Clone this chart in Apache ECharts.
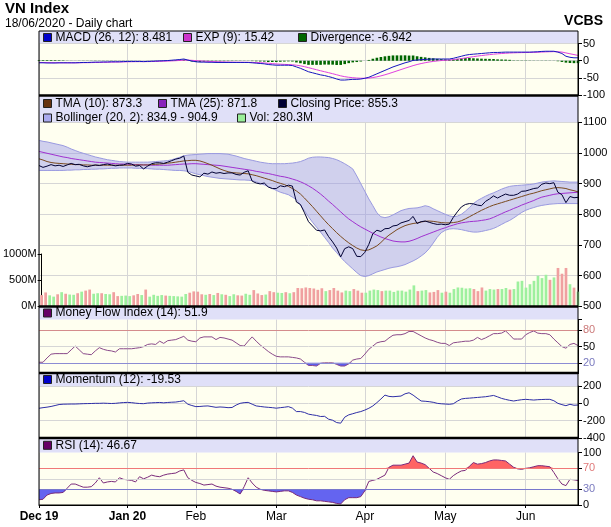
<!DOCTYPE html>
<html><head><meta charset="utf-8">
<script src="https://cdn.jsdelivr.net/npm/echarts@6/dist/echarts.min.js"></script>
<style>html,body{margin:0;padding:0;background:#fff}#c{width:611px;height:527px}</style>
</head><body><div id="c"></div>
<script>
// ---- trading calendar (categories) ----
const tradingDays = [
  ['2019-12', [2,3,4,5,6,9,10,11,12,13,16,17,18,19,20,23,24,25,26,27,30,31]],
  ['2020-01', [2,3,6,7,8,9,10,13,14,15,16,17,20,21,22,30,31]],
  ['2020-02', [3,4,5,6,7,10,11,12,13,14,17,18,19,20,21,24,25,26,27,28]],
  ['2020-03', [2,3,4,5,6,9,10,11,12,13,16,17,18,19,20,23,24,25,26,27,30,31]],
  ['2020-04', [1,3,6,7,8,9,10,13,14,15,16,17,20,21,22,23,24,27,28,29]],
  ['2020-05', [4,5,6,7,8,11,12,13,14,15,18,19,20,21,22,25,26,27,28,29]],
  ['2020-06', [1,2,3,4,5,8,9,10,11,12,15,16,17,18]]
];
const categories = [];
tradingDays.forEach(([m, days]) => days.forEach(d => categories.push(m + '-' + String(d).padStart(2, '0'))));
const tickLabels = ['Dec 19', 'Jan 20', 'Feb', 'Mar', 'Apr', 'May', 'Jun'];
const boldTickLabels = ['Dec 19', 'Jan 20'];

// ---- price panel ----
const closePrice = [
  959,953,957,962,958,960,956,961,966,962,963,958,955,958,961,959,962,964,961,958,960,961,
  966,964,957,959,948,957,965,968,968,966,970,975,980,983,990,937,928,
  925,922,934,931,938,934,936,933,935,935,930,928,937,942,908,902,899,902,889,884,
  884,893,890,895,892,840,832,805,776,762,748,746,749,727,710,690,661,688,694,688,663,662,
  676,702,737,748,744,753,754,762,764,772,776,780,793,770,776,778,774,770,767,768,
  766,768,790,808,824,832,835,834,830,828,842,850,860,853,860,866,862,862,866,875,
  876,880,884,886,898,902,900,903,872,864,838,858,854,855.3
];
const tma10 = [
  981,977,972,969,967,966,965,964,963,962,962,961,961,960,960,960,960,960,960,960,960,960,
  960,960,961,961,961,961,962,963,964,965,967,968,970,972,974,975,976,
  976,974,970,965,960,954,948,943,939,936,935,934,933,932,929,926,922,918,914,910,
  905,901,897,891,884,876,866,853,839,825,810,795,780,766,753,740,728,717,707,698,690,684,
  682,684,690,697,708,721,732,741,750,757,763,767,770,772,775,777,778,777,775,773,
  772,772,773,775,779,785,792,799,806,813,819,825,830,834,838,842,846,850,854,858,
  862,866,869,873,877,880,883,886,887,886,884,880,877,873.3
];
const tma25 = [
  1005,1002,999,996,993,990,987,985,982,980,978,976,974,972,970,969,968,967,966,965,964,964,
  963,963,962,962,961,961,960,960,960,960,960,961,962,963,964,964,965,
  965,964,963,962,961,960,959,957,955,953,951,949,947,945,943,940,938,935,933,930,
  927,924,922,919,915,911,906,900,893,885,876,866,855,843,832,820,808,796,785,776,767,759,
  752,745,738,732,726,721,717,713,711,710,710,712,716,721,727,732,737,742,747,752,
  756,761,765,769,772,774,776,777,778,780,782,785,790,796,802,808,813,819,824,830,
  835,840,845,851,856,859,862,865,867,868,869,870,871,871.8
];
const bollUpper = [
  1041,1038,1036,1033,1030,1027,1024,1019,1013,1008,1003,999,995,991,987,984,981,978,976,974,972,971,
  970,970,970,970,970,970,971,972,973,974,975,978,982,986,991,993,994,
  995,996,997,998,998,998,998,997,996,993,990,986,982,979,976,973,970,968,966,965,
  965,965,965,966,967,969,972,977,983,986,987,987,986,985,982,978,972,965,957,948,925,900,
  875,850,828,805,792,789,792,798,805,812,816,819,820,821,824,828,825,818,812,806,
  800,795,792,794,800,810,822,835,845,852,859,865,870,876,882,887,891,893,894,895,
  896,897,899,902,905,907,908,909,908,907,906,905,905,904.9
];
const bollLower = [
  943,943,943,943,943,943,943,944,944,945,945,946,946,947,947,948,948,949,950,950,951,951,
  951,951,950,950,949,949,948,947,947,946,945,944,943,943,942,940,936,
  932,929,926,923,921,919,917,916,915,914,913,912,912,911,910,906,901,896,890,884,
  878,872,868,864,856,848,830,812,792,774,758,742,725,708,690,675,660,646,634,622,610,600,
  597,600,606,612,616,620,624,627,629,632,636,642,648,655,664,674,688,706,725,740,
  748,752,753,752,750,747,744,742,742,744,747,750,754,760,767,774,780,788,797,806,
  813,818,822,826,829,831,833,834,835,835,835,835,835,834.9
];
const volumeM = [
  215,265,210,185,230,270,240,225,220,250,280,300,320,240,250,250,235,230,270,195,200,205,
  195,210,235,215,320,185,220,200,215,205,200,195,190,185,235,260,285,
  280,230,220,235,215,255,230,220,195,230,210,205,240,220,310,245,215,225,290,270,
  260,255,270,250,270,350,345,360,350,340,315,345,290,310,350,300,265,300,290,330,300,260,
  260,300,320,310,290,300,300,275,300,300,280,320,400,290,300,310,265,275,310,260,
  280,260,330,360,355,340,345,330,290,360,300,330,320,330,330,350,320,330,474,487,
  357,422,487,584,539,603,506,552,733,623,733,422,357,280.3
];

// ---- MACD panel ----
const macd = [
  -6,-6,-6.5,-6.5,-6.5,-6,-6,-6,-6,-6,-5.5,-5,-5,-4.5,-4,-4,-3.5,-3.5,-3,-3,-3,-2.5,
  -2,-2,-2,-2,-2.5,-2,-1.5,-1,-0.5,0,0.5,1.5,2.5,3.5,5,2,-1,
  -3,-4,-4,-4.5,-4.5,-5,-5,-5,-5,-5,-5,-5,-5,-5,-6,-7,-8,-9,-11,-12,
  -13,-13,-13,-13,-14,-18,-22,-27,-32,-35,-38,-41,-43,-46,-49,-53,-56,-56,-55,-54,-54,-53,
  -51,-48,-43,-38,-33,-28,-23,-18,-14,-10,-6,-3,1,2,3,4,4.5,5,5,5,
  5,5,7,10,13,16,18,19,20,21,22,23,24,24,24.5,25,25,25,25,25,
  25,25,25.5,26,27,27.5,27.5,27.5,25,21,13,10,8.5,8.481
];
const macdSignal = [
  -5,-5.2,-5.4,-5.6,-5.8,-5.9,-5.9,-6,-6,-6,-5.9,-5.7,-5.6,-5.4,-5.1,-4.9,-4.6,-4.4,-4.1,-3.9,-3.7,-3.4,
  -3.1,-2.9,-2.7,-2.6,-2.6,-2.5,-2.3,-2.1,-1.8,-1.4,-1,-0.5,0.1,0.8,1.6,1.7,1.2,
  0.4,-0.5,-1.2,-1.9,-2.4,-2.9,-3.3,-3.6,-3.9,-4.1,-4.3,-4.4,-4.5,-4.6,-4.9,-5.3,-5.8,-6.5,-7.4,-8.3,
  -9.3,-10,-10.6,-11.1,-11.7,-13,-14.8,-17.2,-20.1,-23.1,-26.1,-29.1,-31.9,-34.7,-37.6,-40.7,-43.8,-46.2,-48,-49.2,-50.2,-50.8,
  -50.8,-50.3,-48.8,-46.7,-43.9,-40.8,-37.2,-33.4,-29.5,-25.6,-21.7,-18,-14.2,-11,-8.2,-5.8,-3.7,-2,-0.6,0.5,
  1.4,2.1,3.1,4.5,6.2,8.2,10.1,11.9,13.5,15,16.4,17.7,19,20,20.9,21.7,22.4,22.9,23.3,23.6,
  23.9,24.1,24.4,24.7,25.2,25.7,26.1,26.4,26.1,25.1,22.7,20.2,17.9,15.42
];
const macdDivergence = [
  2,2,2,2,1.8,1.5,1.2,0.5,0.3,0.2,0.4,0.5,0.5,0.5,0.6,0.5,0.5,0.5,0.6,0.5,0.4,0.5,
  0.5,0.4,0.3,0.3,0.1,0.3,0.4,0.5,0.6,0.6,0.7,1.5,2.2,2.7,3.4,1.6,-2.2,
  -3.4,-3.5,-2.8,-2.6,-2.1,-2.1,-1.7,-1.4,-1.1,-0.9,-0.7,-0.6,-0.5,-0.4,-1.1,-1.7,-2.2,-2.5,-3.6,-3.7,
  -3.7,-3,-2.4,-1.9,-2.3,-5,-7.2,-9.8,-11.9,-11.9,-11.9,-11.9,-11.1,-11.3,-11.4,-12.3,-12.2,-9.8,-7,-4.8,-3.8,-2.2,
  -0.2,2.3,5.8,8.7,10.9,12.8,14.2,15.4,15.5,15.6,15.7,15,15.2,13,11.2,9.8,8.2,7,5.6,4.5,
  3.6,2.9,3.9,5.5,6.8,7.8,7.9,7.1,6.5,6,5.6,5.3,5,4,3.6,3.3,2.6,0.9,0.8,0.7,
  0.8,0.6,0.5,0.4,0.5,0.6,0.5,0.4,-1.5,-3.5,-5.5,-6.5,-7,-6.942
];

// ---- oscillators ----
const mfi = [
  21,21,29,36,37,37,37,37,44,51,44,37,36,35,42,48,45,43,42,40,46,46,
  46,46,47,48,50,54,55,54,60,56,61,62,63,66,69,62,60,
  59,66,68,68,68,63,67,66,64,62,57,52,51,60,68,60,53,47,41,36,
  32,31,31,31,30,29,27,21,15,15,14,19,20,20,20,17,14,14,18,25,27,28,
  36,45,51,57,59,60,66,71,72,72,74,78,78,74,70,66,63,61,58,56,
  56,52,57,58,59,60,60,62,67,63,66,70,74,74,75,79,72,64,64,64,
  72,76,79,75,74,74,72,64,57,50,47,54,56,51.9
];
const momentum = [
  -57,-50,-44,-36,-25,-14,-10,-9,-8,-8,-6,-4,-3,-2,0,0,2,0,-2,0,5,9,
  11,8,2,-2,-4,3,6,8,10,6,10,13,15,22,30,-10,-25,
  -38,-36,-32,-30,-38,-46,-42,-45,-50,-48,-20,0,8,11,-10,-30,-36,-42,-46,-50,
  -56,-50,-45,-38,-55,-95,-95,-105,-125,-133,-140,-152,-150,-183,-195,-222,-229,-160,-133,-120,-106,-95,
  -78,-57,-30,8,50,95,80,76,80,84,110,122,95,60,27,24,19,12,0,-5,
  -8,-11,-5,25,50,57,60,64,68,72,76,83,91,75,57,45,35,27,35,42,
  46,42,38,42,44,46,46,30,0,-15,-27,-11,-22,-19.53
];
const rsi = [
  10,11,19,22,23,23,24,32,40,40,37,34,34,35,42,52,42,44,45,44,52,49,
  48,47,44,54,50,53,57,55,54,57,59,60,61,65,67,52,47,
  43,41,38,39,40,36,34,33,32,30,26,21,35,52,42,34,30,28,27,26,
  25,26,27,27,24,19,16,13,11,10,8,8,7,6,5,3,2,10,14,14,14,16,
  27,45,47,49,53,57,72,76,76,76,78,80,94,82,80,77,70,63,60,56,
  52,49,56,61,65,66,74,81,78,79,81,84,86,86,85,84,78,72,69,68,
  70,71,73,75,75,74,73,62,50,40,37,49,48,46.67
];

// ---- axis tick labels ----
const macdTicks = [-100, -50, 0, 50];
const mfiTickLabels = [20, 50, 80];
const rsiTickLabels = [0, 30, 70, 100];

const names = {
  macd: 'MACD (26, 12): 8.481', exp: 'EXP (9): 15.42', div: 'Divergence: -6.942',
  tma10: 'TMA (10): 873.3', tma25: 'TMA (25): 871.8', close: 'Closing Price: 855.3',
  boll: 'Bollinger (20, 2): 834.9 - 904.9', vol: 'Vol: 280.3M',
  mfi: 'Money Flow Index (14): 51.9', mom: 'Momentum (12): -19.53', rsi: 'RSI (14): 46.67'
};

// ---- derived helpers for drawing ----
const monthStartIdx = [];
categories.forEach((c, i) => { if (i === 0 || c.slice(0, 7) !== categories[i - 1].slice(0, 7)) monthStartIdx.push(i); });
const tickAt = {};
monthStartIdx.forEach((idx, k) => { tickAt[idx] = tickLabels[k]; });
const isTick = (i) => tickAt[i] !== undefined;
const volUp = closePrice.map((v, i) => i > 0 && v >= closePrice[i - 1]);

const FONT = 'Liberation Sans, Arial, sans-serif';
const L = 39, RGT = 33, PW = 539;
const GRIDC = '#d6d6d6';
const CREAM = '#fffff0';
const BAND = '#e0e0f8';
const plain = (v) => String(v);

function xAx(g, bottom) {
  return {
    type: 'category', gridIndex: g, data: categories, boundaryGap: false,
    axisLine: { show: bottom, lineStyle: { color: '#000', width: 1 } },
    axisTick: { show: bottom, interval: (i) => isTick(i), length: 3, lineStyle: { color: '#000' } },
    axisLabel: {
      show: bottom, interval: (i) => isTick(i), margin: 6, fontSize: 12, color: '#000', fontFamily: FONT,
      showMinLabel: true,
      formatter: (v, i) => { const t = tickAt[i] || ''; return boldTickLabels.includes(t) ? '{b|' + t + '}' : t; },
      rich: { b: { fontWeight: 'bold', fontSize: 12, color: '#000', fontFamily: FONT } }
    },
    splitLine: { show: g !== 2, interval: (i) => isTick(i), lineStyle: { color: GRIDC, width: 1 } }
  };
}
function yAx(g, o) {
  const base = {
    type: 'value', gridIndex: g, position: 'right', scale: false,
    axisLine: { show: true, lineStyle: { color: '#000' } },
    axisTick: { show: true, length: 4, lineStyle: { color: '#000' } },
    axisLabel: { fontSize: 11, color: '#000', margin: 5, fontFamily: FONT, formatter: plain },
    splitLine: { show: true, lineStyle: { color: GRIDC, width: 1 } }
  };
  return Object.assign(base, o);
}
const lineS = (name, data, color, x, y, extra) => Object.assign({
  type: 'line', name, data, xAxisIndex: x, yAxisIndex: y, symbol: 'none', color,
  lineStyle: { color, width: 1 }, animation: false, silent: true, z: 3
}, extra || {});
const hline = (v, c) => ({ yAxis: v, lineStyle: { color: c, width: 1, type: 'solid' } });

const series = [
  // MACD
  { type: 'bar', name: names.div, data: macdDivergence, xAxisIndex: 0, yAxisIndex: 0, barWidth: 2.6,
    color: '#006600', itemStyle: { color: '#006600' }, animation: false, silent: true },
  lineS(names.exp, macdSignal, '#e040e0', 0, 0),
  lineS(names.macd, macd, '#1515c0', 0, 0),
  // Bollinger band
  lineS('bollLow', bollLower, '#9a9ae0', 1, 1, { stack: 'boll', z: 2 }),
  lineS(names.boll, bollUpper.map((u, i) => u - bollLower[i]), '#9a9ae0', 1, 1,
    { stack: 'boll', z: 2, areaStyle: { color: 'rgba(150,150,232,0.45)', opacity: 1 } }),
  // volume
  { type: 'bar', name: names.vol, data: volumeM, xAxisIndex: 2, yAxisIndex: 2, barWidth: 2.7,
    color: '#99ee99', itemStyle: { color: (p) => volUp[p.dataIndex] ? '#9ef09e' : '#f0a0a0' },
    animation: false, silent: true, z: 1 },
  lineS(names.tma25, tma25, '#a030d0', 1, 1),
  lineS(names.tma10, tma10, '#7a4a1e', 1, 1),
  lineS(names.close, closePrice, '#000033', 1, 1),
  // MFI
  lineS('mfiBase', mfi.map(v => Math.min(v, 20)), 'rgba(0,0,0,0)', 3, 3, { stack: 'mfiLow', lineStyle: { width: 0 } }),
  lineS('mfiLow', mfi.map(v => 20 - Math.min(v, 20)), 'rgba(0,0,0,0)', 3, 3,
    { stack: 'mfiLow', lineStyle: { width: 0 }, areaStyle: { color: '#5c5cee', opacity: 1 } }),
  lineS(names.mfi, mfi, '#8a4a8a', 3, 3, {
    markLine: { silent: true, symbol: 'none', label: { show: false }, animation: false,
      data: [hline(50, GRIDC), hline(80, '#d48c8c'), hline(20, '#8c8cd4')] }
  }),
  // Momentum
  lineS(names.mom, momentum, '#2e2ea6', 4, 4),
  // RSI
  lineS('rsiBaseHi', rsi.map(() => 70), 'rgba(0,0,0,0)', 5, 5, { stack: 'rsiHi', lineStyle: { width: 0 } }),
  lineS('rsiHi', rsi.map(v => Math.max(v - 70, 0)), 'rgba(0,0,0,0)', 5, 5,
    { stack: 'rsiHi', lineStyle: { width: 0 }, areaStyle: { color: '#ff6464', opacity: 1 } }),
  lineS('rsiBaseLo', rsi.map(v => Math.min(v, 30)), 'rgba(0,0,0,0)', 5, 5, { stack: 'rsiLo', lineStyle: { width: 0 } }),
  lineS('rsiLo', rsi.map(v => 30 - Math.min(v, 30)), 'rgba(0,0,0,0)', 5, 5,
    { stack: 'rsiLo', lineStyle: { width: 0 }, areaStyle: { color: '#6464f0', opacity: 1 } }),
  lineS(names.rsi, rsi, '#7a2a7a', 5, 5, {
    markLine: { silent: true, symbol: 'none', label: { show: false }, animation: false,
      data: [hline(50, GRIDC), hline(70, '#f07878'), hline(30, '#7878cc')] }
  })
];

const legendDefs = [
  [names.macd, 43, 37.5, '#0000cc'], [names.exp, 183, 37.5, '#cc33cc'], [names.div, 298, 37.5, '#006600'],
  [names.tma10, 43, 103.5, '#663311'], [names.tma25, 158, 103.5, '#8822bb'], [names.close, 278, 103.5, '#000033'],
  [names.boll, 43, 118, '#aaaaee'], [names.vol, 237, 118, '#99ee99'],
  [names.mfi, 43, 313, '#660066'], [names.mom, 43, 379.5, '#0000cc'], [names.rsi, 43, 445.3, '#660066']
];
const legend = legendDefs.map(([n, x, y, c]) => ({
  data: [{ name: n, icon: 'rect', itemStyle: { color: c, borderColor: '#222', borderWidth: 1 } }],
  left: x, top: y - 7, padding: 0, itemWidth: 8, itemHeight: 8, itemGap: 0, selectedMode: false,
  textStyle: { fontSize: 12, color: '#000', fontFamily: FONT, lineHeight: 14, padding: [0, 0, 0, -1] }
}));

const rect = (x, y, w, h, fill, z) => ({ type: 'rect', shape: { x, y, width: w, height: h }, style: { fill }, z: z || 0, silent: true });
const hsep = (y, w) => ({ type: 'line', shape: { x1: L, y1: y, x2: L + PW, y2: y }, style: { stroke: '#000', lineWidth: w }, z: 100, silent: true });
const graphic = [
  rect(L, 31, PW, 12.5, BAND), rect(L, 96.5, PW, 25.8, BAND), rect(L, 306.5, PW, 13.1, BAND),
  rect(L, 373, PW, 13, BAND), rect(L, 438, PW, 14.6, BAND),
  { type: 'rect', shape: { x: L, y: 31, width: PW, height: 474 }, style: { fill: 'none', stroke: '#000', lineWidth: 1 }, z: 100, silent: true },
  hsep(95.5, 2.6), hsep(306.5, 2.6), hsep(373, 2.6), hsep(438, 2.6)
];

const gridBox = (top, height, bg) => ({ left: L, right: RGT, top, height, show: !!bg, backgroundColor: bg || 'transparent', borderWidth: 0 });

const option = {
  animation: false,
  backgroundColor: '#fff',
  textStyle: { fontFamily: FONT },
  title: [
    { text: 'VN Index', left: 5, top: 1, padding: 0, itemGap: 2,
      textStyle: { fontSize: 15, fontWeight: 'bold', color: '#000', fontFamily: FONT },
      subtext: '18/06/2020 - Daily chart', subtextStyle: { fontSize: 12, color: '#000', fontFamily: FONT } },
    { text: 'VCBS', right: 8, top: 14, padding: 0,
      textStyle: { fontSize: 14, fontWeight: 'bold', color: '#000', fontFamily: FONT } }
  ],
  legend,
  graphic,
  grid: [
    gridBox(43.5, 51.7, CREAM), gridBox(122.3, 184, CREAM), gridBox(254, 52.3),
    gridBox(319.6, 54, CREAM), gridBox(386, 52, CREAM), gridBox(452.6, 52.4, CREAM)
  ],
  xAxis: [xAx(0, false), xAx(1, false), xAx(2, false), xAx(3, false), xAx(4, false), xAx(5, true)],
  yAxis: [
    yAx(0, { min: macdTicks[0], max: macdTicks[macdTicks.length - 1], interval: 50 }),
    yAx(1, { min: 500, max: 1100, interval: 100 }),
    yAx(2, { position: 'left', min: 0, max: 1000, interval: 500, splitLine: { show: false },
      axisLabel: { fontSize: 11, color: '#000', margin: 5, fontFamily: FONT, formatter: (v) => String(v) + 'M' } }),
    yAx(3, { min: 0, max: 100, splitLine: { show: false },
      axisTick: { show: true, length: 4, lineStyle: { color: '#000' }, customValues: [20, 50, 80, 100] },
      axisLabel: { fontSize: 11, margin: 5, fontFamily: FONT, customValues: mfiTickLabels, formatter: plain,
        color: (v) => Number(v) === 80 ? '#cc7a7a' : Number(v) === 20 ? '#7a7abf' : '#000' } }),
    yAx(4, { min: -400, max: 200, interval: 200 }),
    yAx(5, { min: 0, max: 100, splitLine: { show: false },
      axisTick: { show: true, length: 4, lineStyle: { color: '#000' }, customValues: rsiTickLabels },
      axisLabel: { fontSize: 11, margin: 5, fontFamily: FONT, customValues: rsiTickLabels, formatter: plain,
        color: (v) => Number(v) === 70 ? '#e07a7a' : Number(v) === 30 ? '#7a7abf' : '#000' } })
  ],
  series
};
const chart = echarts.init(document.getElementById('c'), null, { renderer: 'canvas' });
chart.setOption(option);
</script></body></html>
